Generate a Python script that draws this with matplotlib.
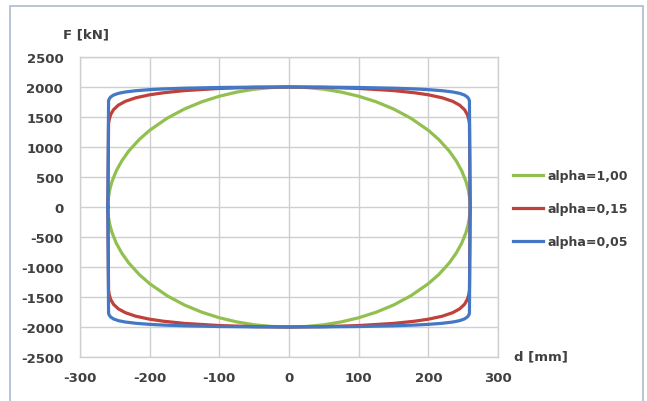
import numpy as np
import matplotlib
matplotlib.use("Agg")
import matplotlib.pyplot as plt
from matplotlib.patches import Rectangle

plt.rcParams.update({"font.family": "DejaVu Sans", "font.size": 9.5,
                     "font.weight": "bold", "axes.unicode_minus": False})

# ── values (upper arc; lower arc is the mirror F -> -F) ──
d_green = [-260, -259.7, -259, -257, -254, -248, -240, -230, -215, -200,
           -175, -150, -125, -100, -75, -50, -25, 0, 25, 50, 75, 100, 125,
           150, 175, 200, 215, 230, 240, 248, 254, 257, 259, 259.7, 260]
F_a100 = [0, 96, 175, 303, 427, 601, 769, 933, 1125, 1278, 1479, 1634, 1754,
          1846, 1915, 1963, 1991, 2000, 1991, 1963, 1915, 1846, 1754, 1634,
          1479, 1278, 1125, 933, 769, 601, 427, 303, 175, 96, 0]

d_sharp = [-260, -259, -258, -256, -252, -245, -235, -220, -200, -180, -150,
           -100, -50, 0, 50, 100, 150, 180, 200, 220, 235, 245, 252, 256,
           258, 259, 260]
F_a015 = [0, 1388, 1462, 1540, 1621, 1697, 1761, 1820, 1870, 1904, 1940,
          1976, 1994, 2000, 1994, 1976, 1940, 1904, 1870, 1820, 1761, 1697,
          1621, 1540, 1462, 1388, 0]
F_a005 = [0, 1771, 1802, 1833, 1865, 1894, 1917, 1938, 1956, 1968, 1980,
          1992, 1998, 2000, 1998, 1992, 1980, 1968, 1956, 1938, 1917, 1894,
          1865, 1833, 1802, 1771, 0]

labels = ["alpha=1,00", "alpha=0,15", "alpha=0,05"]
colors = ["#92C050", "#C0403A", "#4478C4"]
series = [(d_green, F_a100), (d_sharp, F_a015), (d_sharp, F_a005)]

x_ticks = [-300, -200, -100, 0, 100, 200, 300]
y_ticks = [-2500, -2000, -1500, -1000, -500, 0, 500, 1000, 1500, 2000, 2500]

fig = plt.figure(figsize=(6.47, 4.02), dpi=100)
ax = fig.add_axes([80/647, 1-358/402, 418/647, 300/402])

for (dv, F), lab, c in zip(series, labels, colors):
    d = np.array(dv, float)
    f = np.array(F, float)
    # closed loop: upper arc left->right, then lower arc right->left
    dd = np.concatenate([d, d[::-1]])
    ff = np.concatenate([f, -f[::-1]])
    ax.plot(dd, ff, color=c, lw=2.3, label=lab, solid_joinstyle="round",
            zorder=3)

ax.set_xlim(-300, 300)
ax.set_ylim(-2500, 2500)
ax.set_xticks(x_ticks)
ax.set_yticks(y_ticks)
ax.grid(color="#CFCFCF", lw=1.0, zorder=0)
ax.set_axisbelow(True)
for s in ax.spines.values():
    s.set_color("#CFCFCF")
    s.set_linewidth(1.0)
ax.tick_params(length=0, colors="#404040", labelsize=9.5)
ax.tick_params(axis="y", pad=12)
ax.tick_params(axis="x", pad=10)

fig.text(86/647, 1-35/402, "F [kN]", ha="center", va="center",
         color="#404040", fontsize=9.5, fontweight="bold")
fig.text(541/647, 1-357/402, "d [mm]", ha="center", va="center",
         color="#404040", fontsize=9.5, fontweight="bold")

fig.legend(loc="upper left", bbox_to_anchor=(513/647, 1-170/402),
           frameon=False, handlelength=2.4, handletextpad=0.4,
           labelspacing=1.6, borderpad=0, borderaxespad=0,
           prop={"size": 9, "weight": "bold"}, labelcolor="#404040")

# chart frame
fig.patches.append(Rectangle((10/647, -0.05), 633/647, 1.05-7/402,
                             transform=fig.transFigure, fill=False,
                             edgecolor="#A9BCCF", lw=1.2))

fig.savefig("out.png", dpi=100, facecolor="white")
